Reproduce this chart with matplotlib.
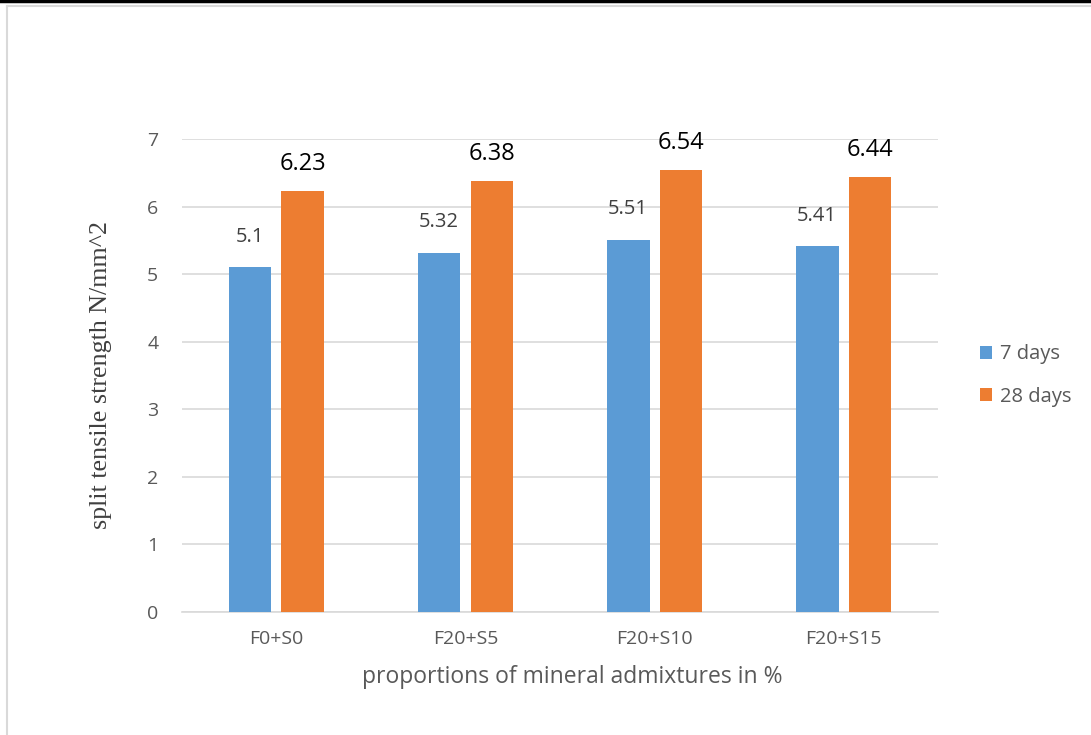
import matplotlib.pyplot as plt
from matplotlib.lines import Line2D
import numpy as np

# mix proportions and split tensile strength (N/mm^2)
mixes = ["F0+S0", "F20+S5", "F20+S10", "F20+S15"]
days_7 = [5.1, 5.32, 5.51, 5.41]
days_28 = [6.23, 6.38, 6.54, 6.44]

BLUE = "#5b9bd5"
ORANGE = "#ed7d31"
GRID = "#d9d9d9"
TEXT = "#595959"

plt.rcParams["font.family"] = ["Open Sans", "DejaVu Sans"]

fig = plt.figure(figsize=(10.91, 7.35), dpi=100)
ax = fig.add_axes([0.1668, 0.1673, 0.8598 - 0.1668, 0.8109 - 0.1673])

x = np.arange(len(mixes))
width = 0.227
gap = 0.053

b1 = ax.bar(x - (width + gap) / 2, days_7, width, color=BLUE, label="7 days", zorder=3)
b2 = ax.bar(x + (width + gap) / 2, days_28, width, color=ORANGE, label="28 days", zorder=3)

for rect, v in zip(b1, days_7):
    ax.annotate(f"{v:g}", (rect.get_x() + rect.get_width() / 2, v),
                xytext=(0, 15), textcoords="offset points",
                ha="center", va="bottom", fontsize=14.5, color="#404040")
for rect, v in zip(b2, days_28):
    ax.annotate(f"{v:g}", (rect.get_x() + rect.get_width() / 2, v),
                xytext=(0, 10.5), textcoords="offset points",
                ha="center", va="bottom", fontsize=17, color="black")

ax.set_xlim(-0.5, len(mixes) - 0.5)
ax.set_ylim(0, 7)
ax.set_yticks(range(0, 8))
ax.set_xticks(x)
ax.set_xticklabels(mixes)
ax.tick_params(length=0, labelsize=14, labelcolor=TEXT, pad=13)
ax.tick_params(axis="y", pad=17)
ax.grid(axis="y", color=GRID, linewidth=1.2, zorder=0)
for s in ["top", "right", "left"]:
    ax.spines[s].set_visible(False)
ax.spines["bottom"].set_color(GRID)
ax.spines["bottom"].set_linewidth(1.2)

ax.set_xlabel("proportions of mineral admixtures in %", fontsize=16.5, color=TEXT, labelpad=12)
ax.xaxis.label.set_x(0.516)
ax.set_ylabel("split tensile strength N/mm^2", fontsize=18.7, color="#404040",
              family="Liberation Serif", labelpad=25)

leg = ax.legend(loc="center left", bbox_to_anchor=(1.032, 0.5), frameon=False,
                fontsize=14.5, labelcolor=TEXT, handlelength=0.6, handleheight=0.6,
                handletextpad=0.4, labelspacing=1.1)

# page frame
fig.add_artist(Line2D([0, 1], [0.999, 0.999], color="black", linewidth=2.5))
fig.add_artist(Line2D([7 / 1091, 1], [1 - 6 / 735, 1 - 6 / 735], color=GRID, linewidth=1.5))
fig.add_artist(Line2D([7 / 1091, 7 / 1091], [0, 1 - 6 / 735], color=GRID, linewidth=1.5))

fig.savefig("out.png", dpi=100)
